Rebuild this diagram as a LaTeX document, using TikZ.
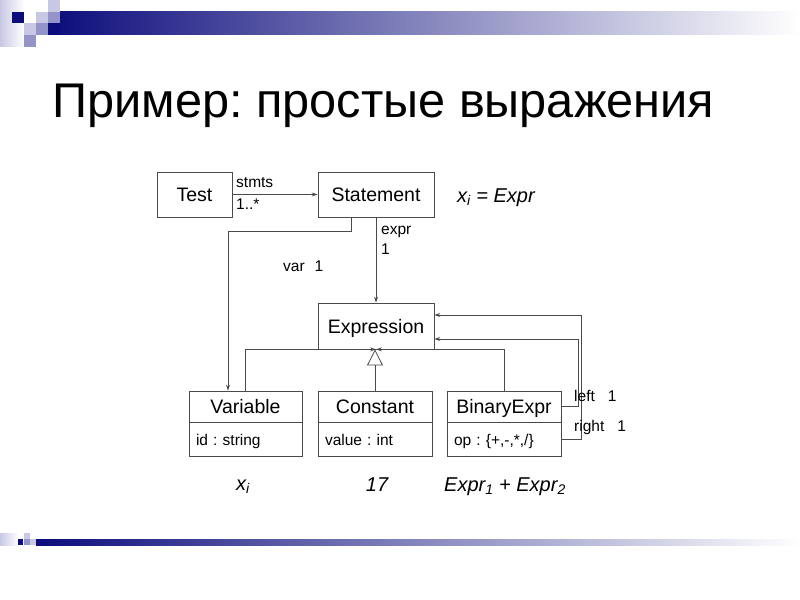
\documentclass[tikz,border=0pt]{standalone}
\usepackage{fontspec}
\setmainfont{Liberation Sans}
\usetikzlibrary{arrows.meta}
\frenchspacing

\begin{document}
\begin{tikzpicture}[x=1bp, y=-1bp,
    classbox/.style={draw=lineColour, line width=0.8bp, inner sep=0pt, text height=16bp, text depth=2bp, font=\fontsize{19.5bp}{22bp}\selectfont},
    attrbox/.style={draw=lineColour, line width=0.8bp, inner xsep=7bp, inner ysep=0pt, text height=12bp, text depth=1bp, align=left, font=\fontsize{15.5bp}{18bp}\selectfont},
    rolelabel/.style={inner sep=0pt, anchor=west, font=\fontsize{15.5bp}{18bp}\selectfont},
    formula/.style={inner sep=0pt, font=\fontsize{20bp}{24bp}\selectfont\itshape},
    assoc/.style={draw=lineColour, line width=0.8bp, -{Stealth[length=6bp,width=4bp]}},
    generalise/.style={draw=lineColour, line width=0.8bp, -{Triangle[open,length=16bp,width=16bp]}}]

    % Define colours
    \definecolor{lineColour}{HTML}{4A4A4A}
    \definecolor{navyColour}{HTML}{0C0C7C}
    \definecolor{midColour}{HTML}{9494C8}
    \definecolor{lightColour}{HTML}{C8C8E4}

    % Fix page size
    \useasboundingbox (0,0) rectangle (800,600);

    % Draw top banner
    \shade[left color=lightColour, right color=white] (0,0) rectangle (24,47);
    \shade[left color=navyColour, right color=white] (48,12) rectangle (800,35);
    \fill[navyColour] (12,12) rectangle (24,23);
    \fill[lightColour] (48,0) rectangle (60,12);
    \fill[lightColour] (36,12) rectangle (48,23);
    \fill[midColour] (48,12) rectangle (60,23);
    \fill[lightColour] (24,23) rectangle (36,35);
    \fill[midColour] (36,23) rectangle (48,35);
    \fill[navyColour] (48,23) rectangle (60,35);
    \fill[midColour] (24,35) rectangle (36,47);

    % Draw bottom banner
    \shade[left color=lightColour, right color=white] (0,533) rectangle (18,545);
    \shade[left color=navyColour, right color=white] (36,539) rectangle (800,545);
    \fill[navyColour] (18,539) rectangle (23,545);
    \fill[lightColour] (24,533) rectangle (30,539);
    \fill[midColour] (24,539) rectangle (30,545);
    \fill[lightColour] (30,539) rectangle (36,545);

    % Title
    \node[anchor=base west, inner sep=0pt, font=\fontsize{48.7bp}{58bp}\selectfont] (title) at (52,118) {Пример: простые выражения};

    % Classes
    \node[classbox, minimum width=75bp, minimum height=45bp] (test) at (194.5,194.5) {Test};
    \node[classbox, minimum width=116bp, minimum height=45bp] (stmt) at (376,194.5) {Statement};
    \node[classbox, minimum width=116bp, minimum height=46bp] (expr) at (376,326) {Expression};

    \node[classbox, minimum width=113bp, minimum height=31bp] (varName) at (245.5,406.5) {Variable};
    \node[attrbox, text width=99bp, minimum height=34bp, anchor=north] (varAttr) at (varName.south) {id : string};
    \node[classbox, minimum width=114bp, minimum height=31bp] (constName) at (375,406.5) {Constant};
    \node[attrbox, text width=100bp, minimum height=34bp, anchor=north] (constAttr) at (constName.south) {value : int};
    \node[classbox, minimum width=114bp, minimum height=31bp] (binName) at (504,406.5) {BinaryExpr};
    \node[attrbox, text width=100bp, minimum height=34bp, anchor=north] (binAttr) at (binName.south) {op : \{+,-,*,/\}};

    % Associations
    \draw[assoc] (test) -- (stmt);
    \draw[assoc] ([xshift=-25bp]stmt.south) -- ++(0,14) -| ([xshift=-17.5bp]varName.north);
    \draw[assoc] (stmt.south) -- (expr.north);
    \draw[assoc] (binName.east) -- ++(17,0) |- ([yshift=-13bp]expr.east);
    \draw[assoc] (binAttr.east) -- ++(20,0) |- ([yshift=11bp]expr.east);

    % Generalisations
    \draw[assoc] (varName.north) |- (expr.south);
    \draw[assoc] (binName.north) |- (expr.south);
    \draw[generalise] (constName.north) -- (constName.north |- expr.south);

    % Role labels
    \node[rolelabel] (stmtsRole) at (236,183) {stmts};
    \node[rolelabel] (stmtsMult) at (236,204) {1..*};
    \node[rolelabel] (exprRole) at (381,232) {expr};
    \node[rolelabel] (exprMult) at (381,249) {1};
    \node[rolelabel] (varRole) at (283,266) {var\hspace{10bp}1};
    \node[rolelabel] (leftRole) at (574,396) {left\hspace{13bp}1};
    \node[rolelabel] (rightRole) at (574,427) {right\hspace{13bp}1};

    % Formulas
    \node[formula, anchor=west] (stmtForm) at (457,198) {x\textsubscript{i} = Expr};
    \node[formula] (varForm) at (243,487) {x\textsubscript{i}};
    \node[formula] (constForm) at (377,485) {17};
    \node[formula] (binForm) at (505,487) {Expr\textsubscript{1} + Expr\textsubscript{2}};

\end{tikzpicture}
\end{document}
